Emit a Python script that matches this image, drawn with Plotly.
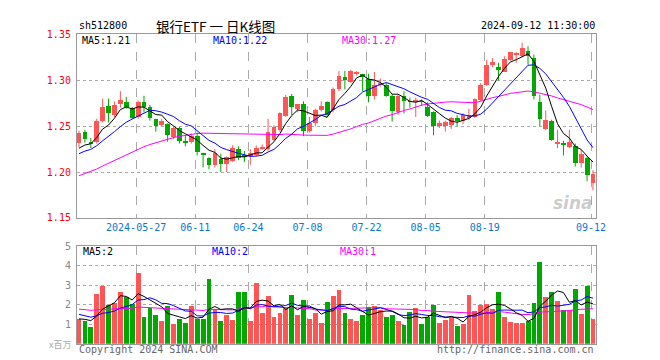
import plotly.graph_objects as go

# ---------------- data ----------------
tick_idx = [10, 20, 29, 39, 49, 59, 69, 87]
tick_labels = ["2024-05-27", "06-11", "06-24", "07-08", "07-22", "08-05", "08-19", "09-12"]

open_ = [1.231, 1.243, 1.232, 1.232, 1.255, 1.272, 1.262, 1.274, 1.276, 1.269,
         1.260, 1.276, 1.270, 1.257, 1.251, 1.252, 1.238, 1.248, 1.234, 1.232,
         1.239, 1.220, 1.215, 1.207, 1.214, 1.208, 1.212, 1.225, 1.218, 1.217,
         1.218, 1.225, 1.225, 1.235, 1.245, 1.261, 1.282, 1.268, 1.274, 1.244,
         1.253, 1.267, 1.276, 1.267, 1.290, 1.303, 1.298, 1.307, 1.306, 1.301,
         1.282, 1.294, 1.294, 1.282, 1.265, 1.283, 1.277, 1.276, 1.277, 1.271,
         1.265, 1.250, 1.250, 1.251, 1.259, 1.255, 1.259, 1.260, 1.278, 1.295,
         1.316, 1.314, 1.309, 1.322, 1.328, 1.326, 1.331, 1.324, 1.276, 1.247,
         1.255, 1.231, 1.231, 1.227, 1.228, 1.210, 1.215, 1.188]
high = [1.245, 1.246, 1.237, 1.258, 1.280, 1.280, 1.277, 1.288, 1.282, 1.271,
        1.278, 1.283, 1.273, 1.258, 1.258, 1.253, 1.249, 1.249, 1.240, 1.242,
        1.243, 1.221, 1.216, 1.225, 1.220, 1.217, 1.229, 1.228, 1.223, 1.225,
        1.229, 1.230, 1.258, 1.251, 1.265, 1.284, 1.285, 1.274, 1.277, 1.260,
        1.269, 1.277, 1.277, 1.292, 1.310, 1.310, 1.311, 1.310, 1.307, 1.307,
        1.309, 1.302, 1.297, 1.285, 1.284, 1.288, 1.281, 1.281, 1.279, 1.276,
        1.266, 1.256, 1.256, 1.260, 1.262, 1.264, 1.269, 1.280, 1.297, 1.322,
        1.324, 1.319, 1.326, 1.331, 1.331, 1.341, 1.337, 1.328, 1.284, 1.267,
        1.257, 1.246, 1.234, 1.246, 1.231, 1.224, 1.217, 1.202]
low = [1.227, 1.232, 1.226, 1.231, 1.254, 1.254, 1.260, 1.270, 1.269, 1.258,
       1.258, 1.265, 1.256, 1.244, 1.250, 1.233, 1.236, 1.231, 1.228, 1.231,
       1.218, 1.205, 1.203, 1.205, 1.200, 1.200, 1.211, 1.213, 1.211, 1.208,
       1.217, 1.224, 1.223, 1.234, 1.244, 1.260, 1.262, 1.265, 1.239, 1.243,
       1.250, 1.266, 1.260, 1.265, 1.288, 1.290, 1.297, 1.305, 1.288, 1.276,
       1.279, 1.293, 1.282, 1.255, 1.262, 1.264, 1.270, 1.260, 1.272, 1.260,
       1.240, 1.248, 1.244, 1.247, 1.250, 1.252, 1.257, 1.259, 1.277, 1.294,
       1.314, 1.300, 1.309, 1.321, 1.319, 1.325, 1.317, 1.279, 1.250, 1.246,
       1.234, 1.226, 1.218, 1.226, 1.206, 1.205, 1.190, 1.180]
close = [1.242, 1.236, 1.231, 1.255, 1.270, 1.264, 1.273, 1.278, 1.270, 1.258,
         1.276, 1.271, 1.258, 1.250, 1.255, 1.240, 1.248, 1.233, 1.232, 1.239,
         1.222, 1.219, 1.207, 1.220, 1.208, 1.216, 1.226, 1.215, 1.217, 1.220,
         1.226, 1.227, 1.243, 1.249, 1.264, 1.281, 1.270, 1.274, 1.244, 1.253,
         1.267, 1.272, 1.262, 1.290, 1.304, 1.300, 1.310, 1.309, 1.304, 1.283,
         1.295, 1.297, 1.283, 1.266, 1.283, 1.277, 1.276, 1.278, 1.276, 1.261,
         1.250, 1.253, 1.254, 1.259, 1.255, 1.262, 1.262, 1.279, 1.295, 1.316,
         1.319, 1.311, 1.323, 1.330, 1.329, 1.335, 1.326, 1.283, 1.257, 1.256,
         1.235, 1.232, 1.230, 1.232, 1.210, 1.219, 1.196, 1.198]
volume = [1.28, 1.17, 0.87, 2.55, 2.97, 2.00, 2.08, 2.67, 2.37, 2.05,
          3.62, 1.37, 1.80, 1.47, 1.17, 1.92, 1.00, 1.28, 1.05, 1.92,
          1.28, 1.25, 3.30, 1.75, 1.17, 1.45, 1.22, 2.67, 2.62, 1.17,
          3.12, 1.55, 2.45, 1.38, 1.55, 1.80, 2.50, 1.45, 2.25, 1.25,
          1.55, 1.05, 2.12, 2.45, 2.75, 1.55, 1.25, 1.17, 1.45, 1.90,
          1.95, 1.70, 1.35, 1.45, 1.17, 0.95, 1.60, 1.85, 1.00, 1.38,
          1.98, 1.07, 1.22, 1.33, 0.92, 1.00, 2.50, 1.65, 2.00, 2.05,
          1.75, 2.65, 1.35, 1.12, 1.05, 1.05, 1.15, 2.10, 4.20, 2.37,
          2.62, 2.20, 1.70, 1.70, 2.80, 1.50, 2.95, 1.25]

# closes / volumes of the 29 sessions before the window (only feed the moving averages)
prior_close = [1.165, 1.168, 1.170, 1.172, 1.175, 1.178, 1.176, 1.180, 1.182, 1.185,
               1.183, 1.187, 1.190, 1.188, 1.192, 1.195, 1.193, 1.197, 1.200, 1.204,
               1.208, 1.212, 1.215, 1.217, 1.218, 1.219, 1.224, 1.221, 1.224]
prior_volume = [2.1, 1.7, 1.9, 2.3, 1.6, 1.8, 2.0, 2.2, 1.7, 1.9,
                1.8, 2.1, 1.6, 2.0, 1.9, 1.8, 2.2, 1.7, 1.9, 1.8,
                1.9, 1.6, 1.8, 1.7, 1.65, 1.3, 1.2, 1.35, 1.22]

price_ma_labels = ["MA5:1.21", "MA10:1.22", "MA30:1.27"]
vol_ma_labels = ["MA5:2", "MA10:2", "MA30:1"]
title_code = "sh512800"
title_name = "银行ETF 一 日K线图"
title_time = "2024-09-12 11:30:00"
unit_label = "x百万"
footer_left = "Copyright 2024 SINA.COM"
footer_right = "http://finance.sina.com.cn"

# ---------------- helpers ----------------
W, H = 660, 360
RED = "#ff5555"
GREEN = "#00a800"
MONO = "DejaVu Sans Mono, Liberation Mono, monospace"


def ma(series, prior, n):
    full = list(prior) + list(series)
    k = len(prior)
    return [sum(full[k + i - n + 1:k + i + 1]) / n for i in range(len(series))]


def fx(px):
    return px / W


def fy(py):
    return 1 - py / H


n = len(close)
idx = list(range(n))
up = [c >= o for o, c in zip(open_, close)]
colors = [RED if u else GREEN for u in up]

fig = go.Figure()

# wicks
for flag, col in ((True, RED), (False, GREEN)):
    xs, ys = [], []
    for i in idx:
        if up[i] == flag:
            xs += [i, i, None]
            ys += [low[i], high[i], None]
    fig.add_trace(go.Scatter(x=xs, y=ys, mode="lines", line=dict(color=col, width=1),
                             xaxis="x", yaxis="y", hoverinfo="skip"))

# bodies
body_base = [min(o, c) for o, c in zip(open_, close)]
body_h = [max(abs(c - o), 0.0009) for o, c in zip(open_, close)]
fig.add_trace(go.Bar(x=idx, y=body_h, base=body_base, width=0.8,
                     marker=dict(color=colors, line=dict(width=0)),
                     xaxis="x", yaxis="y", hoverinfo="skip"))

# price MAs
for per, col in ((30, "#ff00ff"), (10, "#0000ff"), (5, "#000000")):
    fig.add_trace(go.Scatter(x=idx, y=ma(close, prior_close, per), mode="lines",
                             line=dict(color=col, width=1), xaxis="x", yaxis="y",
                             hoverinfo="skip"))

# volume
fig.add_trace(go.Bar(x=idx, y=volume, width=0.82,
                     marker=dict(color=colors, line=dict(width=0)),
                     xaxis="x2", yaxis="y2", hoverinfo="skip"))
for per, col in ((30, "#ff00ff"), (10, "#0000ff"), (5, "#000000")):
    fig.add_trace(go.Scatter(x=idx, y=ma(volume, prior_volume, per), mode="lines",
                             line=dict(color=col, width=1), xaxis="x2", yaxis="y2",
                             hoverinfo="skip"))

xdom = [fx(70), fx(597)]
xr = [-0.35, n - 0.5]
grid_x = [i - 0.33 for i in tick_idx]
common_x = dict(domain=xdom, range=xr, tickvals=grid_x, showgrid=True,
                gridcolor="#aaaaaa", griddash="dash", gridwidth=1, zeroline=False,
                showline=True, linecolor="#999999", linewidth=1, mirror=True, ticks="")
common_y = dict(showgrid=True, gridcolor="#aaaaaa", griddash="dot", gridwidth=1,
                zeroline=False, showline=True, linecolor="#999999", linewidth=1,
                mirror=True, ticks="", ticklabelstandoff=3)

fig.update_layout(
    width=W, height=H, margin=dict(l=0, r=0, t=0, b=0),
    paper_bgcolor="white", plot_bgcolor="white", showlegend=False, bargap=0,
    xaxis=dict(**common_x, anchor="y", ticktext=tick_labels,
               tickfont=dict(family=MONO, size=10, color="#0a78d2")),
    yaxis=dict(**common_y, domain=[fy(211), fy(21)], range=[1.15, 1.35],
               tickvals=[1.15, 1.20, 1.25, 1.30, 1.35],
               ticktext=["1.15", "1.20", "1.25", "1.30", "1.35"],
               tickfont=dict(family=MONO, size=10, color="#ff0000")),
    xaxis2=dict(**common_x, anchor="y2", showticklabels=False),
    yaxis2=dict(**common_y, domain=[fy(341), fy(240)], range=[0, 5],
                tickvals=[1, 2, 3, 4, 5], ticktext=["1", "2", "3", "4", "5"],
                tickfont=dict(family=MONO, size=10, color="#888888")),
)


def ann(text, px, py, color="#000000", size=10, family=MONO, xanchor="left", **kw):
    fig.add_annotation(text=text, x=fx(px), y=fy(py), xref="paper", yref="paper",
                       showarrow=False, xanchor=xanchor, yanchor="middle",
                       font=dict(family=family, size=size, color=color), **kw)


ann(title_code, 70, 12)
ann(title_name, 211, 12, size=13.5, family="Noto Sans CJK SC", xanchor="center")
ann(title_time, 598, 12, xanchor="right")
for t, px, col in zip(price_ma_labels, (73, 206, 337), ("#000000", "#0000ff", "#ff00ff")):
    ann(t, px, 27, color=col)
for t, px, col in zip(vol_ma_labels, (74, 205, 335), ("#000000", "#0000ff", "#ff00ff")):
    ann(t, px, 246, color=col)
ann(footer_left, 70, 347, color="#666666")
ann(footer_right, 597, 347, color="#666666", xanchor="right")
ann(unit_label, 66, 342, color="#aaaaaa", size=9, family="Noto Sans CJK SC", xanchor="right")
fig.add_annotation(text="sina", x=fx(596), y=fy(196), xref="paper", yref="paper",
                   showarrow=False, xanchor="right", yanchor="middle",
                   font=dict(family="DejaVu Sans", size=17, color="rgba(140,140,140,0.45)",
                             style="italic", weight="bold"))

fig.write_html("out.html")
